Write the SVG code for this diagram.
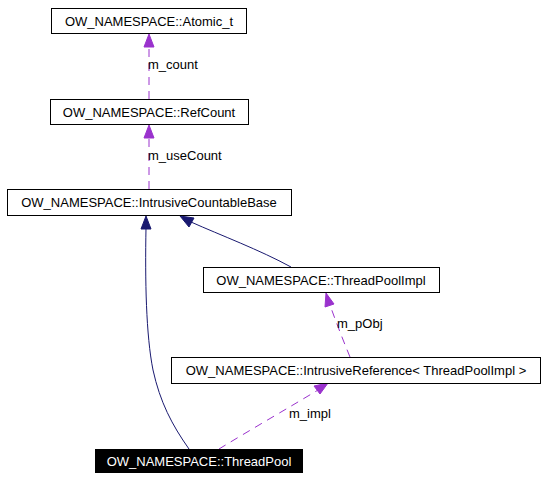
<svg xmlns="http://www.w3.org/2000/svg" width="547" height="480" viewBox="0 0 547 480">
<defs>
<style>
.box{fill:#fff;stroke:#000;stroke-width:1}
.t{font-family:"Liberation Sans",Arial,sans-serif;font-size:13px;fill:#000}
.w{fill:#fff}
.inh{fill:none;stroke:#191970;stroke-width:1}
.use{fill:none;stroke:#9a32cd;stroke-width:1;stroke-dasharray:8,6}
.lbl{font-family:"Liberation Sans",Arial,sans-serif;font-size:13px;fill:#000}
</style>
</defs>
<rect width="547" height="480" fill="#fff"/>
<g id="connectors">
<path class="use" d="M149,99 L149,46"/>
<polygon points="149,34 144,47 154,47" fill="#9a32cd" stroke="#9a32cd"/>
<text class="lbl" x="148" y="69">m_count</text>
<path class="use" d="M149,189 L149,137"/>
<polygon points="149,125 144,138 154,138" fill="#9a32cd" stroke="#9a32cd"/>
<text class="lbl" x="148" y="160">m_useCount</text>
<path class="inh" d="M189,449 C172,425 160,402 153,370 C146,335 145,280 146,228"/>
<polygon points="146,216 141,229 151,229" fill="#191970" stroke="#191970"/>
<path class="inh" d="M291,267 C260,250 220,235 191,222"/>
<polygon points="180,216 189,227 194,218" fill="#191970" stroke="#191970"/>
<path class="use" d="M350,357 C343,340 336,322 330,305"/>
<polygon points="326,293 325,307 334,304" fill="#9a32cd" stroke="#9a32cd"/>
<text class="lbl" x="337" y="328">m_pObj</text>
<path class="use" d="M219,449 C250,430 290,407 318,390"/>
<polygon points="328,383 314,386 320,394" fill="#9a32cd" stroke="#9a32cd"/>
<text class="lbl" x="289" y="418">m_impl</text>
</g>
<g id="atomic">
<rect class="box" x="51.5" y="8.5" width="195" height="25"/>
<text class="t" x="149" y="25.5" text-anchor="middle">OW_NAMESPACE::Atomic_t</text>
</g>
<g id="refcount">
<rect class="box" x="50.5" y="99.5" width="198" height="25"/>
<text class="t" x="149" y="116.5" text-anchor="middle">OW_NAMESPACE::RefCount</text>
</g>
<g id="icb">
<rect class="box" x="7.5" y="189.5" width="284" height="26"/>
<text class="t" x="149" y="207" text-anchor="middle">OW_NAMESPACE::IntrusiveCountableBase</text>
</g>
<g id="tpimpl">
<rect class="box" x="203.5" y="267.5" width="236" height="25"/>
<text class="t" x="321" y="284.5" text-anchor="middle">OW_NAMESPACE::ThreadPoolImpl</text>
</g>
<g id="iref">
<rect class="box" x="171.5" y="357.5" width="369" height="26"/>
<text class="t" x="356" y="375" text-anchor="middle">OW_NAMESPACE::IntrusiveReference&lt; ThreadPoolImpl &gt;</text>
</g>
<g id="threadpool">
<rect x="95" y="449" width="208" height="24" fill="#000"/>
<text class="t w" x="199" y="466" text-anchor="middle">OW_NAMESPACE::ThreadPool</text>
</g>
</svg>
